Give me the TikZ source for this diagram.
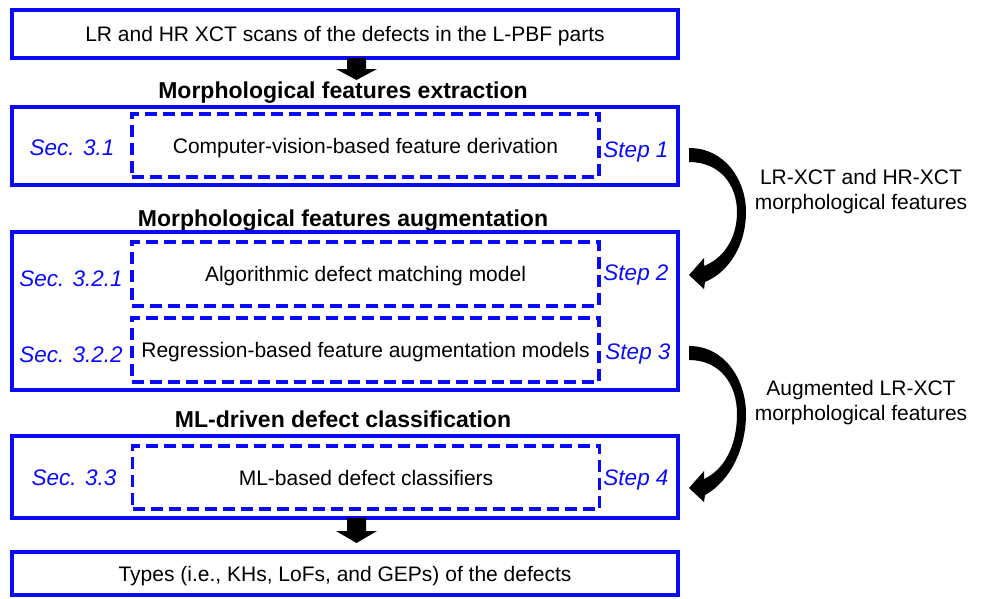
\documentclass[tikz,border=0pt]{standalone}
\usepackage{fontspec}
\setmainfont{Liberation Sans}
\definecolor{boxblue}{RGB}{10,10,245}
\newcommand\txtbody{\fontsize{21}{25}\selectfont}
\newcommand\txttitle{\fontsize{23}{27}\selectfont\bfseries}
\newcommand\txtref{\fontsize{22.5}{27}\selectfont\itshape}
\begin{document}
\begin{tikzpicture}[x=1pt,y=-1pt,
  frame/.style={draw=boxblue, line width=3.2pt, minimum width=666pt, inner sep=0pt,
                font=\txtbody, text height=15pt, text depth=0pt},
  dbox/.style={draw=boxblue, line width=3.2pt, dash pattern=on 12pt off 6pt,
               minimum width=467pt, inner sep=0pt,
               font=\txtbody, text height=15pt, text depth=0pt},
  title/.style={font=\txttitle, inner sep=0pt, text height=16.5pt, text depth=0pt},
  reflbl/.style={font=\txtref, text=boxblue, inner sep=0pt, text height=16pt, text depth=0pt},
  sidelbl/.style={font=\txtbody, align=center, inner sep=0pt, text height=15pt, text depth=25pt},
  blockarrow/.style={fill=black, draw=none}
]
\useasboundingbox (0,0) rectangle (983,598);

% input
\node[frame, minimum height=48pt] (scan) at (345,34)
  {LR and HR XCT scans of the defects in the L-PBF parts};

% stage 1: extraction
\node[title] (t1) at (343,90) {Morphological features extraction};
\node[frame, minimum height=78pt] (ext) at (345,146) {};
\node[dbox, minimum height=63pt] (cv) at (365.5,145.5)
  {Computer-vision-based feature derivation};
\node[reflbl] (s31) at (72,147) {Sec. 3.1};
\node[reflbl] (st1) at (636,149) {Step 1};

% stage 2: augmentation
\node[title] (t2) at (343,218) {Morphological features augmentation};
\node[frame, minimum height=158pt] (aug) at (345,311) {};
\node[dbox, minimum height=64pt] (match) at (365.5,274)
  {Algorithmic defect matching model};
\node[dbox, minimum height=64pt] (regr) at (365.5,350)
  {Regression-based feature augmentation models};
\node[reflbl] (s321) at (71,278) {Sec. 3.2.1};
\node[reflbl] (st2) at (636,272) {Step 2};
\node[reflbl] (s322) at (71,354) {Sec. 3.2.2};
\node[reflbl] (st3) at (638,351) {Step 3};

% stage 3: classification
\node[title] (t3) at (343,419) {ML-driven defect classification};
\node[frame, minimum height=82pt] (cls) at (345,477) {};
\node[dbox, minimum height=63pt] (mlc) at (366,477.5)
  {ML-based defect classifiers};
\node[reflbl] (s33) at (74,477) {Sec. 3.3};
\node[reflbl] (st4) at (636,477) {Step 4};

% output
\node[frame, minimum height=43pt] (types) at (345,573.5)
  {Types (i.e., KHs, LoFs, and GEPs) of the defects};

% side labels
\node[sidelbl] (lab1) at (861,214.5) {LR-XCT and HR-XCT\\morphological features};
\node[sidelbl] (lab2) at (861,425.5) {Augmented LR-XCT\\morphological features};

% block arrows pointing down
\fill[blockarrow] (347,58) -- (366,58) -- (366,69) -- (377,69) -- (356.5,80)
  -- (336,69) -- (347,69) -- cycle;
\fill[blockarrow] (347,518) -- (366,518) -- (366,531) -- (377,531) -- (356.5,543)
  -- (336,531) -- (347,531) -- cycle;

% curved arrows between steps
\fill[blockarrow] (689,148) .. controls (725,148) and (746,180) .. (746,212)
  .. controls (746,245) and (729,272) .. (705,282)
  -- (704,289) -- (689,275) -- (704,258) -- (704,266)
  .. controls (724,258) and (737,238) .. (737,212)
  .. controls (737,185) and (720,162) .. (689,162) -- cycle;
\fill[blockarrow] (689,346) .. controls (725,346) and (746,380) .. (746,414)
  .. controls (746,450) and (729,482) .. (705,495)
  -- (704,502) -- (689,488) -- (704,471) -- (704,479)
  .. controls (724,470) and (737,446) .. (737,414)
  .. controls (737,384) and (720,360) .. (689,360) -- cycle;
\end{tikzpicture}
\end{document}
